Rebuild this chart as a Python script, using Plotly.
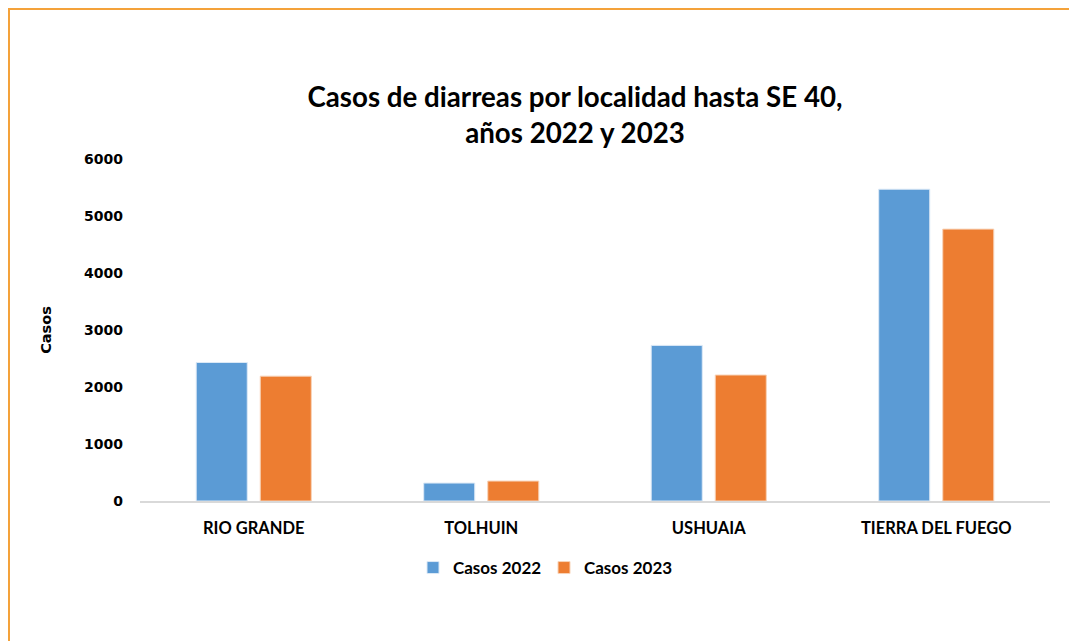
import plotly.graph_objects as go

categories = ["RIO GRANDE", "TOLHUIN", "USHUAIA", "TIERRA DEL FUEGO"]
casos_2022 = [2430, 315, 2730, 5470]
casos_2023 = [2190, 350, 2210, 4770]
y_ticks = [0, 1000, 2000, 3000, 4000, 5000, 6000]

OFF = 8  # page body margin
W, H = 1077 - OFF, 641 - OFF
L, R, T, B = 140 - OFF, 27, 159 - OFF, 140
pw, ph = W - L - R, H - T - B

def px_x(x):  # screen px -> paper
    return (x - OFF - L) / pw

def px_y(y):
    return (H - B - (y - OFF)) / ph

fig = go.Figure()
fig.add_trace(go.Bar(x=categories, y=casos_2022, name="Casos 2022",
                     marker=dict(color="#5B9BD5", line=dict(color="#DCE9F6", width=1))))
fig.add_trace(go.Bar(x=categories, y=casos_2023, name="Casos 2023",
                     marker=dict(color="#ED7D31", line=dict(color="#F8D3B8", width=1))))

fig.update_layout(
    width=W, height=H,
    margin=dict(l=L, r=R, t=T, b=B),
    paper_bgcolor="white", plot_bgcolor="white",
    barmode="group", bargap=0.437, bargroupgap=0.203,
    title=dict(
        text="Casos de diarreas por localidad hasta SE 40,<br>años 2022 y 2023",
        x=(575 - OFF) / W, xanchor="center", xref="container",
        y=1 - (107 - OFF) / H, yanchor="middle", yref="container",
        font=dict(family="Lato", size=27.7, color="#000000", weight="bold"),
    ),
    xaxis=dict(
        showgrid=False, showline=True, linecolor="#D9D9D9", linewidth=2,
        ticks="", ticklabelstandoff=11,
        tickfont=dict(family="Lato", size=16.5, color="#000000", weight="bold"),
    ),
    yaxis=dict(
        range=[0, 6000], tickvals=y_ticks, showgrid=False, showline=False,
        zeroline=False, ticks="", ticklabelstandoff=16,
        tickfont=dict(family="DejaVu Sans", size=14, color="#000000", weight="bold"),
        title=dict(text="Casos", standoff=28,
                   font=dict(family="DejaVu Sans", size=14.5, color="#000000", weight="bold")),
    ),
    legend=dict(
        orientation="h", x=px_x(544), xanchor="center", y=px_y(568), yanchor="middle",
        entrywidth=86,
        font=dict(family="Lato", size=17, color="#000000", weight="bold"),
    ),
    showlegend=True,
    shapes=[dict(type="rect", xref="paper", yref="paper",
                 x0=px_x(OFF + 1), x1=px_x(1077 + 20), y0=px_y(641 + 20), y1=px_y(OFF + 1),
                 line=dict(color="#F4A23A", width=2), fillcolor="rgba(0,0,0,0)", layer="below")],
)

fig.write_html("out.html")
